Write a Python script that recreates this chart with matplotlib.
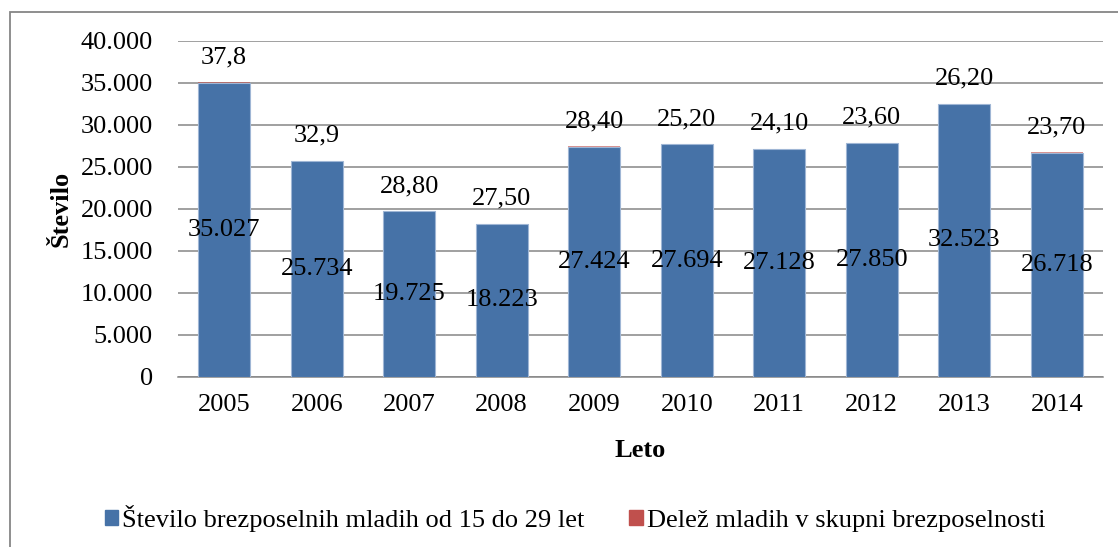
import matplotlib
matplotlib.use('Agg')
import matplotlib.pyplot as plt
from matplotlib.patches import Rectangle, Patch
from matplotlib.ticker import FuncFormatter
import numpy as np

years = ['2005', '2006', '2007', '2008', '2009', '2010', '2011', '2012', '2013', '2014']
unemployed = [35027, 25734, 19725, 18223, 27424, 27694, 27128, 27850, 32523, 26718]
share = [37.8, 32.9, 28.8, 27.5, 28.4, 25.2, 24.1, 23.6, 26.2, 23.7]
share_labels = ['37,8', '32,9', '28,80', '27,50', '28,40', '25,20', '24,10', '23,60', '26,20', '23,70']

blue = '#4672A7'
red = '#C0504D'
grey = '#868686'

plt.rcParams['font.family'] = ['Liberation Serif', 'DejaVu Serif']
fs = 19

fig = plt.figure(figsize=(11.18, 5.47), dpi=100)
ax = fig.add_axes([0.1592, 0.3108, 0.8274, 0.6143])

x = np.arange(len(years))
ax.bar(x, unemployed, width=0.562, color=blue, edgecolor='#9fb6d5', linewidth=0.8, zorder=3)
ax.bar(x, share, bottom=unemployed, width=0.562, color=red, alpha=0.6, linewidth=0, zorder=3)

# labels: number in middle of bar, share above it
for i in range(len(years)):
    ax.text(x[i], unemployed[i] / 2, f"{unemployed[i]:,}".replace(',', '.'),
            ha='center', va='center', fontsize=fs, zorder=4)
    ax.annotate(share_labels[i], (x[i], unemployed[i] + share[i]), xytext=(0, 18),
                textcoords='offset points', ha='center', va='center', fontsize=fs, zorder=4)

ax.set_xlim(-0.5, len(years) - 0.5)
ax.set_ylim(0, 40000)
ax.set_yticks(range(0, 40001, 5000))
ax.yaxis.set_major_formatter(FuncFormatter(lambda v, p: f"{int(v):,}".replace(',', '.')))
ax.set_xticks(x)
ax.set_xticklabels(years)
ax.tick_params(axis='both', length=0, labelsize=fs)
ax.tick_params(axis='y', pad=18)
ax.tick_params(axis='x', pad=12)

ax.grid(axis='y', color=grey, linewidth=1.1, zorder=0)
for s in ['top', 'right', 'left']:
    ax.spines[s].set_visible(False)
ax.spines['bottom'].set_color(grey)
ax.spines['bottom'].set_linewidth(1.1)

ax.set_ylabel('Število', fontsize=fs, fontweight='bold')
ax.yaxis.set_label_coords(-0.114, 0.5)
ax.set_xlabel('Leto', fontsize=fs, fontweight='bold')
ax.xaxis.set_label_coords(0.5, -0.185)

handles = [Patch(color=blue, label='Število brezposelnih mladih od 15 do 29 let'),
           Patch(color=red, label='Delež mladih v skupni brezposelnosti')]
fig.legend(handles=handles, loc='center', bbox_to_anchor=(575 / 1118, 29 / 547), ncol=2,
           frameon=False, fontsize=fs, handlelength=0.5, handleheight=0.5,
           handletextpad=0.15, columnspacing=1.7)

# outer chart border
fig.patches.append(Rectangle((10 / 1118, -0.2), 1.2, 1.2 + (547 - 12) / 547 - 1.0,
                             transform=fig.transFigure, fill=False, edgecolor=grey,
                             linewidth=1.3))

fig.savefig('out.png', dpi=100)
